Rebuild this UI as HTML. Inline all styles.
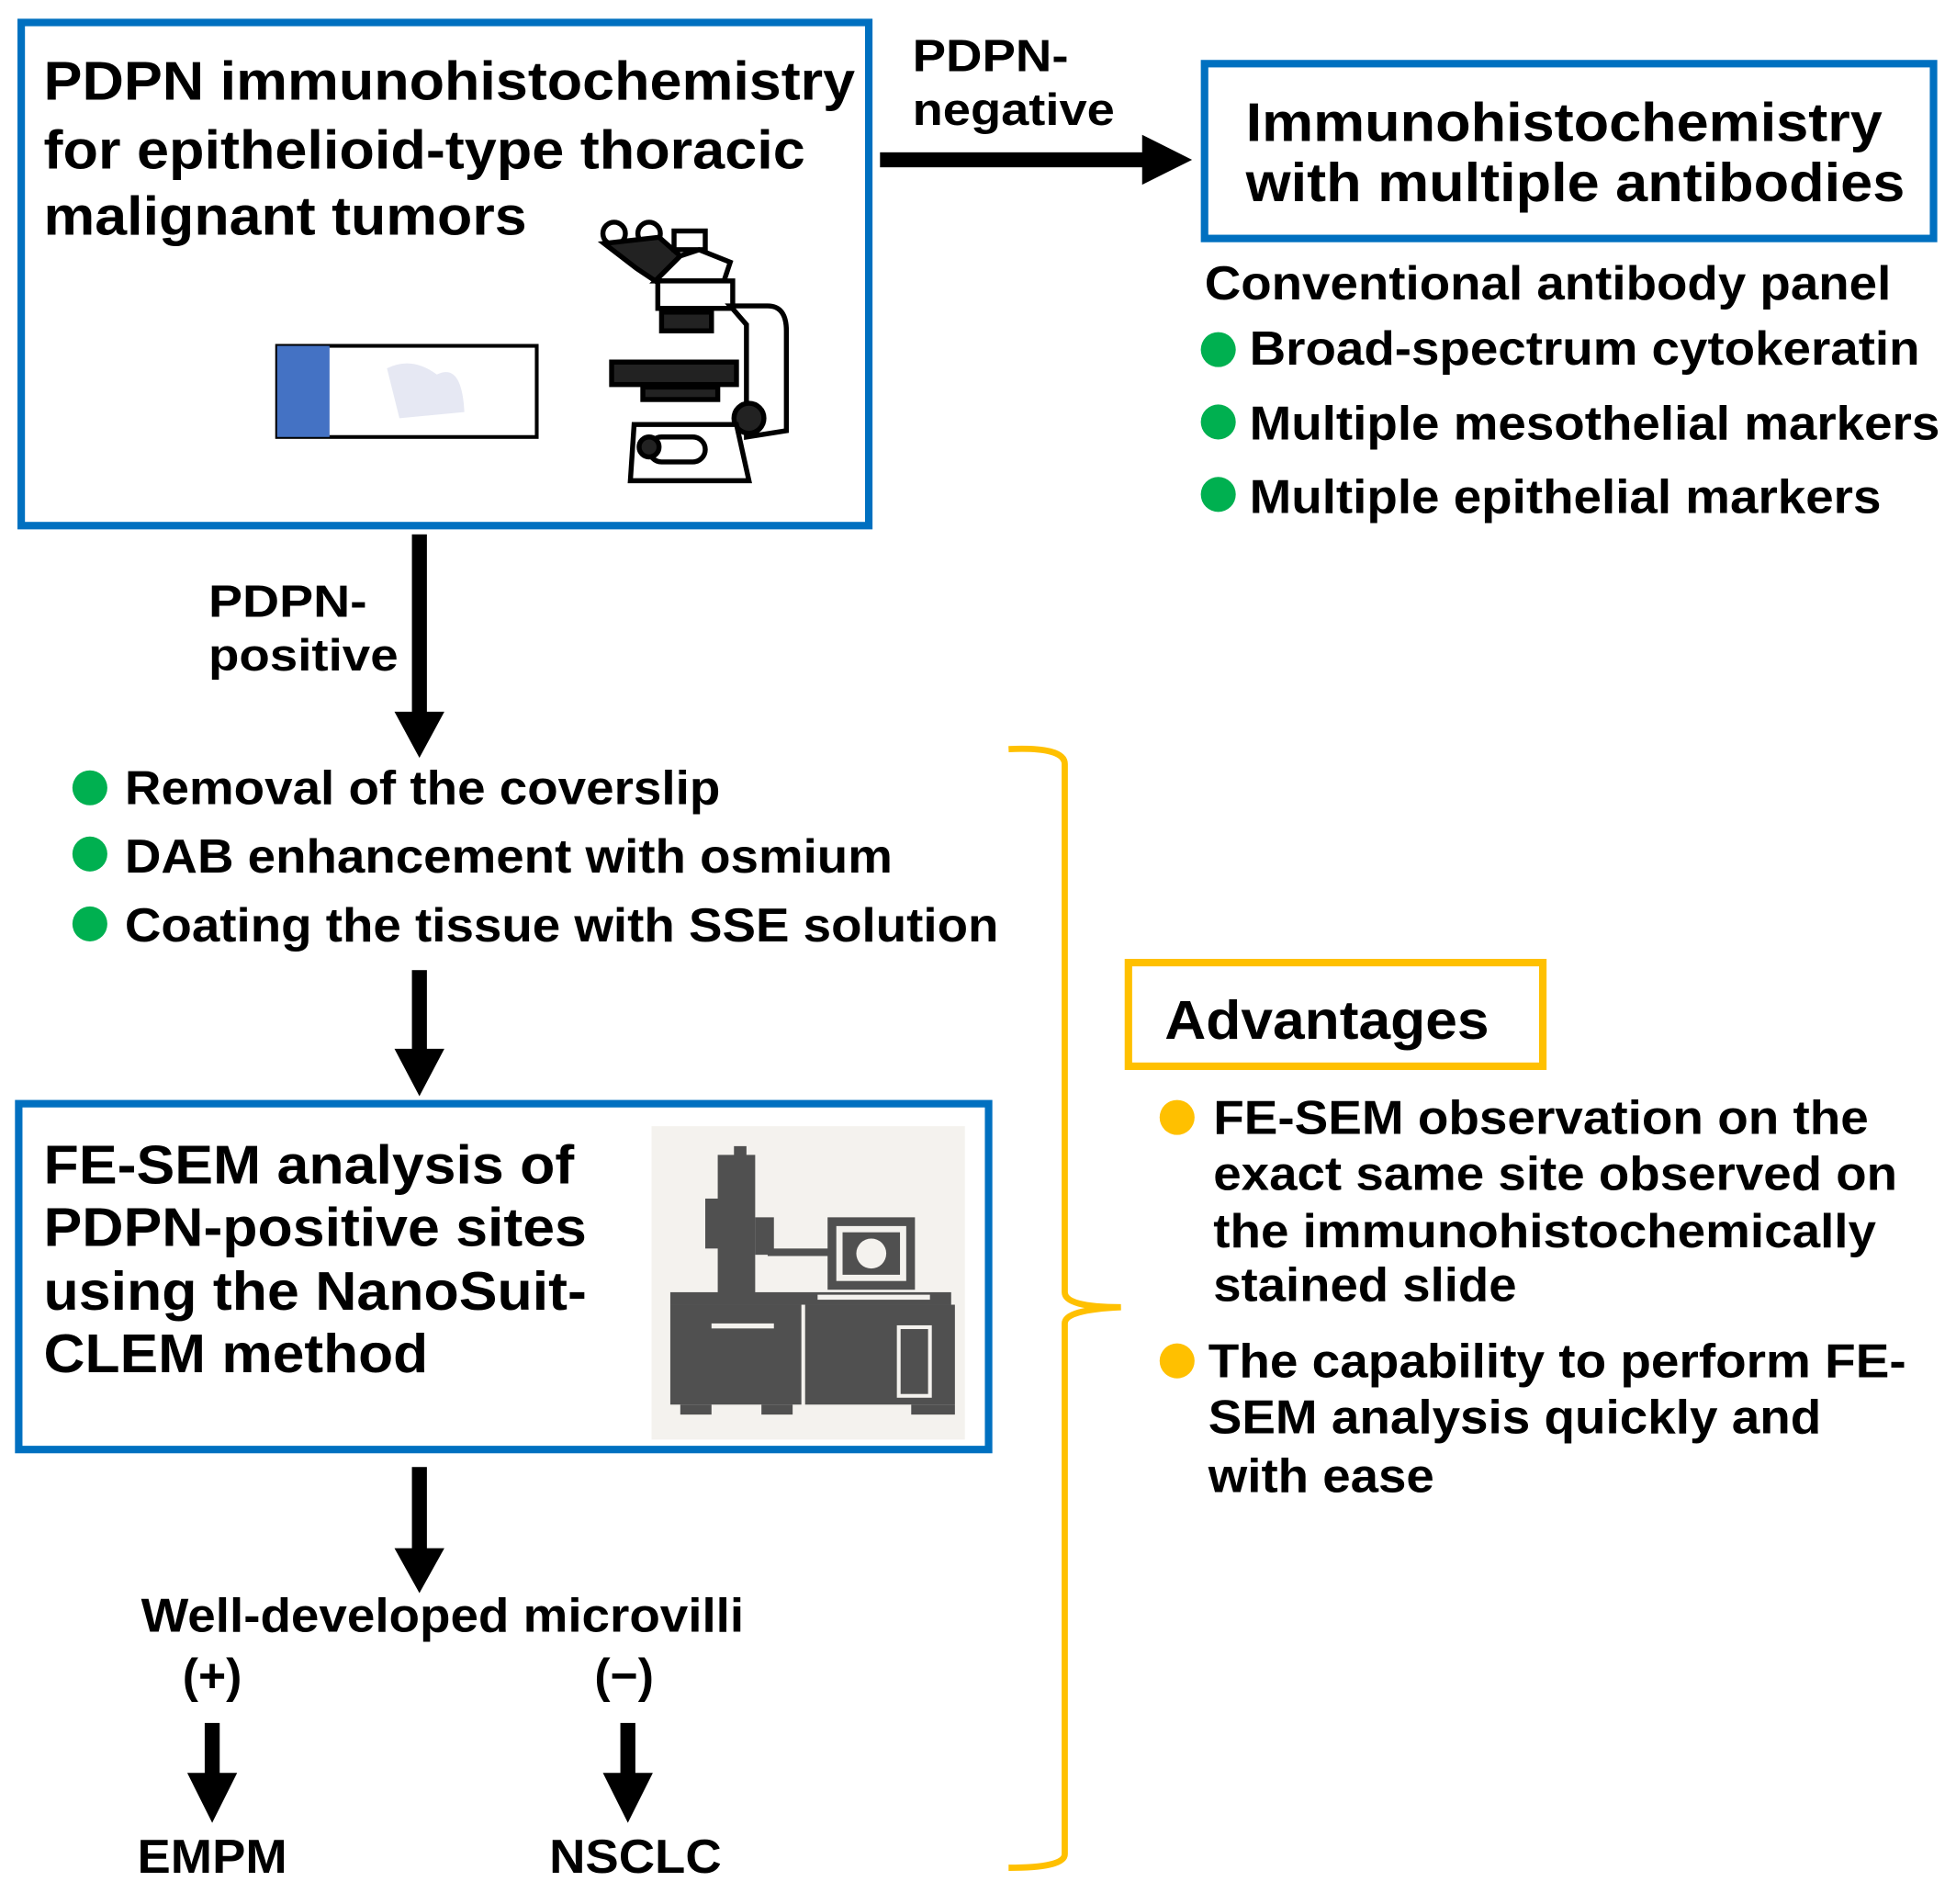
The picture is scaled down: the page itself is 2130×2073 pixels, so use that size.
<!DOCTYPE html>
<html><head><meta charset="utf-8"><style>
html,body{margin:0;padding:0;background:#fff;}
svg{display:block;}
text{font-family:"Liberation Sans",Arial,sans-serif;font-weight:bold;fill:#000;}
</style></head><body>
<svg width="2130" height="2073" viewBox="0 0 1567 1525" preserveAspectRatio="none" xmlns="http://www.w3.org/2000/svg">
<rect width="1567" height="1525" fill="#fff"/>
<!-- Box 1 -->
<rect x="17" y="18" width="679" height="403" fill="none" stroke="#0070C0" stroke-width="6"/>
<g font-size="44">
<text x="35" y="80" textLength="650" lengthAdjust="spacingAndGlyphs">PDPN immunohistochemistry</text>
<text x="35" y="135" textLength="610" lengthAdjust="spacingAndGlyphs">for epithelioid-type thoracic</text>
<text x="35" y="188" textLength="387" lengthAdjust="spacingAndGlyphs">malignant tumors</text>
</g>
<!-- slide -->
<rect x="222" y="277" width="208" height="73" fill="#fff" stroke="#000" stroke-width="3"/>
<rect x="222" y="277" width="42" height="73" fill="#4472C4"/>
<path d="M310 295 Q330 285 350 300 Q370 290 372 330 L320 335 Z" fill="#e6e8f3"/>
<!-- microscope -->
<g stroke="#000" stroke-width="4" fill="#fff">
<circle cx="492" cy="187" r="9"/><circle cx="520" cy="187" r="9"/>
<path d="M484 195 L510 215 L525 225 L545 205 L528 190 Z" fill="#222"/>
<rect x="540" y="185" width="25" height="15" fill="#fff"/>
<path d="M525 225 L580 225 L585 210 L560 200 L545 205 Z"/>
<rect x="527" y="225" width="60" height="22"/>
<path d="M585 245 L615 245 Q630 245 630 265 L630 345 L598 350 L598 260 Z"/>
<rect x="530" y="250" width="40" height="15" fill="#222"/>
<rect x="490" y="290" width="100" height="18" fill="#222"/>
<rect x="515" y="310" width="60" height="10" fill="#222"/>
<circle cx="600" cy="335" r="12" fill="#222"/>
<path d="M508 340 L590 340 L600 385 L505 385 Z"/>
<rect x="520" y="350" width="45" height="20" rx="10" fill="#fff"/>
<circle cx="520" cy="358" r="8" fill="#222"/>
</g>
<!-- arrow right -->
<rect x="705" y="122" width="212" height="12" fill="#000"/>
<polygon points="915,108 955,128 915,148" fill="#000"/>
<g font-size="36">
<text x="731" y="57" textLength="125" lengthAdjust="spacingAndGlyphs">PDPN-</text>
<text x="731" y="100" textLength="162" lengthAdjust="spacingAndGlyphs">negative</text>
</g>
<!-- Box 2 -->
<rect x="965" y="51" width="584" height="140" fill="none" stroke="#0070C0" stroke-width="6"/>
<g font-size="44">
<text x="998" y="113" textLength="510" lengthAdjust="spacingAndGlyphs">Immunohistochemistry</text>
<text x="998" y="161" textLength="528" lengthAdjust="spacingAndGlyphs">with multiple antibodies</text>
</g>
<g font-size="38">
<text x="965" y="240" textLength="550" lengthAdjust="spacingAndGlyphs">Conventional antibody panel</text>
<text x="1001" y="292" textLength="537" lengthAdjust="spacingAndGlyphs">Broad-spectrum cytokeratin</text>
<text x="1001" y="352" textLength="553" lengthAdjust="spacingAndGlyphs">Multiple mesothelial markers</text>
<text x="1001" y="411" textLength="506" lengthAdjust="spacingAndGlyphs">Multiple epithelial markers</text>
</g>
<g fill="#00B050">
<circle cx="976" cy="280" r="14"/><circle cx="976" cy="338" r="14"/><circle cx="976" cy="396" r="14"/>
<circle cx="72" cy="631" r="14"/><circle cx="72" cy="684" r="14"/><circle cx="72" cy="740" r="14"/>
</g>
<!-- down arrow 1 -->
<rect x="330" y="428" width="12" height="144" fill="#000"/>
<polygon points="316,570 356,570 336,607" fill="#000"/>
<g font-size="36">
<text x="167" y="494" textLength="127" lengthAdjust="spacingAndGlyphs">PDPN-</text>
<text x="167" y="537" textLength="152" lengthAdjust="spacingAndGlyphs">positive</text>
</g>
<g font-size="38">
<text x="100" y="644" textLength="477" lengthAdjust="spacingAndGlyphs">Removal of the coverslip</text>
<text x="100" y="699" textLength="615" lengthAdjust="spacingAndGlyphs">DAB enhancement with osmium</text>
<text x="100" y="754" textLength="700" lengthAdjust="spacingAndGlyphs">Coating the tissue with SSE solution</text>
</g>
<rect x="330" y="777" width="12" height="65" fill="#000"/>
<polygon points="316,840 356,840 336,878" fill="#000"/>
<!-- Box 3 -->
<rect x="15" y="884" width="777" height="277" fill="none" stroke="#0070C0" stroke-width="6"/>
<g font-size="44">
<text x="35" y="948" textLength="425" lengthAdjust="spacingAndGlyphs">FE-SEM analysis of</text>
<text x="35" y="998" textLength="435" lengthAdjust="spacingAndGlyphs">PDPN-positive sites</text>
<text x="35" y="1049" textLength="435" lengthAdjust="spacingAndGlyphs">using the NanoSuit-</text>
<text x="35" y="1099" textLength="308" lengthAdjust="spacingAndGlyphs">CLEM method</text>
</g>
<!-- SEM image -->
<rect x="522" y="902" width="251" height="251" fill="#F4F2EE"/>
<g fill="#505050">
<rect x="575" y="925" width="30" height="120"/>
<rect x="565" y="960" width="12" height="40"/>
<rect x="588" y="918" width="10" height="10"/>
<rect x="605" y="975" width="15" height="30"/>
<rect x="615" y="1000" width="55" height="6"/>
<rect x="663" y="975" width="70" height="58"/>
<rect x="537" y="1035" width="225" height="10"/>
<rect x="537" y="1045" width="105" height="80"/>
<rect x="645" y="1045" width="120" height="80"/>
<rect x="545" y="1125" width="25" height="8"/><rect x="610" y="1125" width="25" height="8"/><rect x="730" y="1125" width="35" height="8"/>
</g>
<rect x="670" y="982" width="56" height="44" fill="#F4F2EE"/>
<rect x="675" y="987" width="46" height="34" fill="#505050"/>
<circle cx="698" cy="1004" r="12" fill="#F4F2EE"/>
<rect x="655" y="1037" width="90" height="4" fill="#F4F2EE"/>
<rect x="570" y="1060" width="50" height="4" fill="#F4F2EE"/>
<rect x="720" y="1063" width="25" height="55" fill="none" stroke="#F4F2EE" stroke-width="3"/>
<!-- arrows lower -->
<rect x="330" y="1175" width="12" height="67" fill="#000"/>
<polygon points="316,1240 356,1240 336,1276" fill="#000"/>
<g font-size="38">
<text x="113" y="1307" textLength="483" lengthAdjust="spacingAndGlyphs">Well-developed microvilli</text>
<text x="170" y="1355" text-anchor="middle">(+)</text>
<text x="500" y="1355" text-anchor="middle">(−)</text>
<text x="170" y="1500" text-anchor="middle" textLength="120" lengthAdjust="spacingAndGlyphs">EMPM</text>
<text x="509" y="1500" text-anchor="middle" textLength="138" lengthAdjust="spacingAndGlyphs">NSCLC</text>
</g>
<rect x="164" y="1380" width="12" height="42" fill="#000"/>
<polygon points="150,1420 190,1420 170,1460" fill="#000"/>
<rect x="497" y="1380" width="12" height="42" fill="#000"/>
<polygon points="483,1420 523,1420 503,1460" fill="#000"/>
<!-- brace -->
<path d="M808 600 Q853 598 853 612 L853 1035 Q853 1047 898 1047 Q853 1049 853 1060 L853 1485 Q853 1496 808 1496" fill="none" stroke="#FFC000" stroke-width="5"/>
<!-- Advantages -->
<rect x="904" y="771" width="332" height="83" fill="none" stroke="#FFC000" stroke-width="6"/>
<text x="933" y="832" font-size="44" textLength="260" lengthAdjust="spacingAndGlyphs">Advantages</text>
<g fill="#FFC000"><circle cx="943" cy="895" r="14"/><circle cx="943" cy="1090" r="14"/></g>
<g font-size="38">
<text x="972" y="908" textLength="525" lengthAdjust="spacingAndGlyphs">FE-SEM observation on the</text>
<text x="972" y="953" textLength="548" lengthAdjust="spacingAndGlyphs">exact same site observed on</text>
<text x="972" y="999" textLength="531" lengthAdjust="spacingAndGlyphs">the immunohistochemically</text>
<text x="972" y="1042" textLength="243" lengthAdjust="spacingAndGlyphs">stained slide</text>
<text x="968" y="1103" textLength="559" lengthAdjust="spacingAndGlyphs">The capability to perform FE-</text>
<text x="968" y="1148" textLength="491" lengthAdjust="spacingAndGlyphs">SEM analysis quickly and</text>
<text x="968" y="1195" textLength="181" lengthAdjust="spacingAndGlyphs">with ease</text>
</g>
</svg>
</body></html>
